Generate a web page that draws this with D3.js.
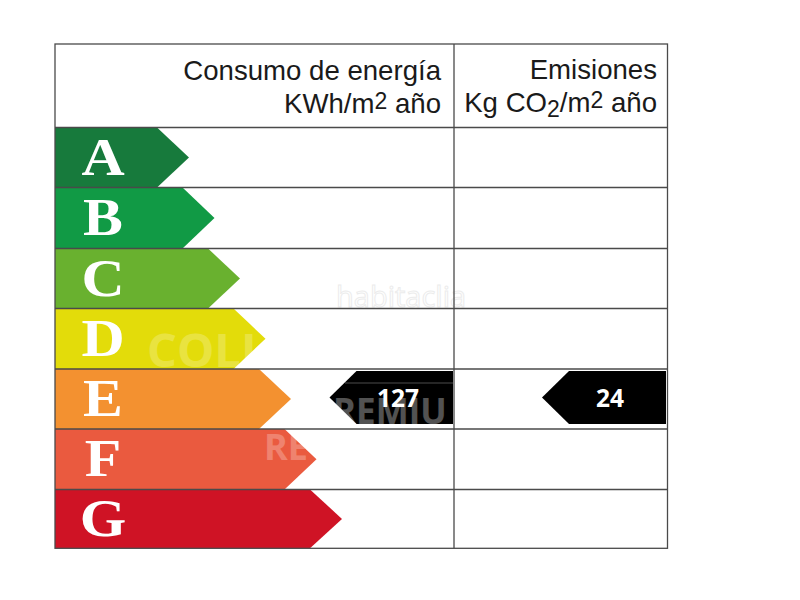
<!DOCTYPE html>
<html>
<head>
  <meta charset="utf-8">
  <title>Certificado energético</title>
  <script src="https://cdnjs.cloudflare.com/ajax/libs/d3/7.8.5/d3.min.js"></script>
  <style>
    html, body { margin: 0; padding: 0; background: #fff; }
    svg { display: block; }
    .head { font-family: "Liberation Sans", Arial, sans-serif; font-size: 27.6px; fill: #1a1a1a; text-anchor: end; }
    .letter { font-family: "Liberation Serif", serif; font-weight: bold; font-size: 52px; fill: #fff; text-anchor: middle; }
    .value { font-family: "Open Sans", sans-serif; font-weight: bold; font-size: 24.5px; fill: #fff; text-anchor: middle; }
    .rule { stroke: #4a4a4a; stroke-width: 1.3; fill: none; }
    .mark { font-family: "Open Sans", sans-serif; font-weight: 700; fill: #fff; }
  </style>
</head>
<body>
<script>
  // data
  var ratings = ["A", "B", "C", "D", "E", "F", "G"];
  var ratingColors = ["#177a3c", "#119a45", "#69b12f", "#e3dc0a", "#f39130", "#ea5a3f", "#cf1325"];
  var consumoRating = "E";
  var consumoValue = 127;
  var emisionesRating = "E";
  var emisionesValue = 24;

  var width = 800, height = 600;
  var tableLeft = 55, tableMid = 454, tableRight = 667.5, tableTop = 44;
  var headLen = 32;

  var svg = d3.select("body").append("svg")
    .attr("width", width)
    .attr("height", height);

  // row edges, the scan is not quite even
  var rowEdge = d3.scaleLinear()
    .domain(d3.range(ratings.length + 1))
    .range([127.5, 187.5, 248.5, 308.5, 369, 429, 489.5, 548.3]);
  var rowIndex = d3.scaleOrdinal().domain(ratings).range(d3.range(ratings.length));
  var tipX = d3.scalePoint().domain(ratings).range([189, 342]);
  var color = d3.scaleOrdinal().domain(ratings).range(ratingColors);

  function rowTop(r) { return rowEdge(rowIndex(r)); }
  function rowBottom(r) { return rowEdge(rowIndex(r) + 1); }

  // coloured arrows
  var bars = svg.append("g").selectAll("g")
    .data(ratings)
    .enter().append("g");

  bars.append("path")
    .attr("fill", function(d) { return color(d); })
    .attr("d", function(d) {
      var y0 = rowTop(d), y1 = rowBottom(d), t = tipX(d);
      return "M" + tableLeft + "," + y0 + "L" + (t - headLen) + "," + y0 +
        "L" + t + "," + (y0 + y1) / 2 + "L" + (t - headLen) + "," + y1 +
        "L" + tableLeft + "," + y1 + "Z";
    });

  bars.append("text")
    .attr("class", "letter")
    .attr("transform", function(d) {
      return "translate(103," + ((rowTop(d) + rowBottom(d)) / 2 + 17) + ") scale(1.15,1)";
    })
    .text(function(d) { return d; });

  // black value arrows
  function valueArrow(rating, value, tip, end, textX) {
    var y0 = rowTop(rating) + 2, y1 = rowBottom(rating) - 5, shoulder = tip + 27;
    svg.append("path")
      .attr("fill", "#000")
      .attr("d", "M" + tip + "," + (y0 + y1) / 2 + "L" + shoulder + "," + y0 +
        "L" + end + "," + y0 + "L" + end + "," + y1 + "L" + shoulder + "," + y1 + "Z");
    svg.append("text")
      .attr("class", "value")
      .attr("x", textX)
      .attr("y", (y0 + y1) / 2 + 9)
      .text(value);
  }

  // faint watermarks, only the bits that show on the marks
  function watermarks() {
    var marks = svg.append("g");
    marks.append("text").attr("class", "mark").attr("x", 147).attr("y", 367)
      .style("font-size", "47px").attr("opacity", 0.22).text("COLL");
    marks.append("text").attr("class", "mark").attr("x", 264).attr("y", 460)
      .style("font-size", "36px").attr("opacity", 0.25).text("RE");
    marks.append("text").attr("x", 336).attr("y", 307)
      .attr("font-family", "'Open Sans', sans-serif").style("font-size", "29px")
      .attr("fill", "#fff").attr("stroke", "#ececec").attr("stroke-width", 1)
      .text("habitaclia");
  }
  watermarks();

  valueArrow(consumoRating, consumoValue, 329.5, 453, 398);
  // the premium stamp sits over the black arrow but under its number
  svg.append("text").attr("class", "mark").attr("x", 333).attr("y", 424)
    .style("font-size", "35px").attr("opacity", 0.32).text("REMIU");
  svg.append("line").attr("x1", 345).attr("x2", 453).attr("y1", 383).attr("y2", 383)
    .attr("stroke", "#fff").attr("stroke-opacity", 0.3);
  svg.select(".value").raise();
  valueArrow(emisionesRating, emisionesValue, 542, 666, 610);

  // table rules
  svg.append("rect").attr("class", "rule")
    .attr("x", tableLeft).attr("y", tableTop)
    .attr("width", tableRight - tableLeft).attr("height", rowEdge(ratings.length) - tableTop);
  svg.append("line").attr("class", "rule")
    .attr("x1", tableMid).attr("x2", tableMid)
    .attr("y1", tableTop).attr("y2", rowEdge(ratings.length));
  svg.selectAll(".row")
    .data(d3.range(ratings.length))
    .enter().append("line")
    .attr("class", "rule")
    .attr("x1", tableLeft).attr("x2", tableRight)
    .attr("y1", function(i) { return rowEdge(i); })
    .attr("y2", function(i) { return rowEdge(i); });

  // header text
  svg.append("text").attr("class", "head").attr("x", 441).attr("y", 80).text("Consumo de energía");
  var h2 = svg.append("text").attr("class", "head").attr("x", 441).attr("y", 113);
  h2.append("tspan").text("KWh/m");
  h2.append("tspan").attr("dy", -4).style("font-size", "23px").text("2");
  h2.append("tspan").attr("dy", 4).text(" año");

  svg.append("text").attr("class", "head").attr("x", 657).attr("y", 79).text("Emisiones");
  var h4 = svg.append("text").attr("class", "head").attr("x", 657).attr("y", 112);
  h4.append("tspan").text("Kg CO");
  h4.append("tspan").attr("dy", 5).style("font-size", "23px").text("2");
  h4.append("tspan").attr("dy", -5).text("/m");
  h4.append("tspan").attr("dy", -4).style("font-size", "23px").text("2");
  h4.append("tspan").attr("dy", 4).text(" año");
</script>
</body>
</html>
